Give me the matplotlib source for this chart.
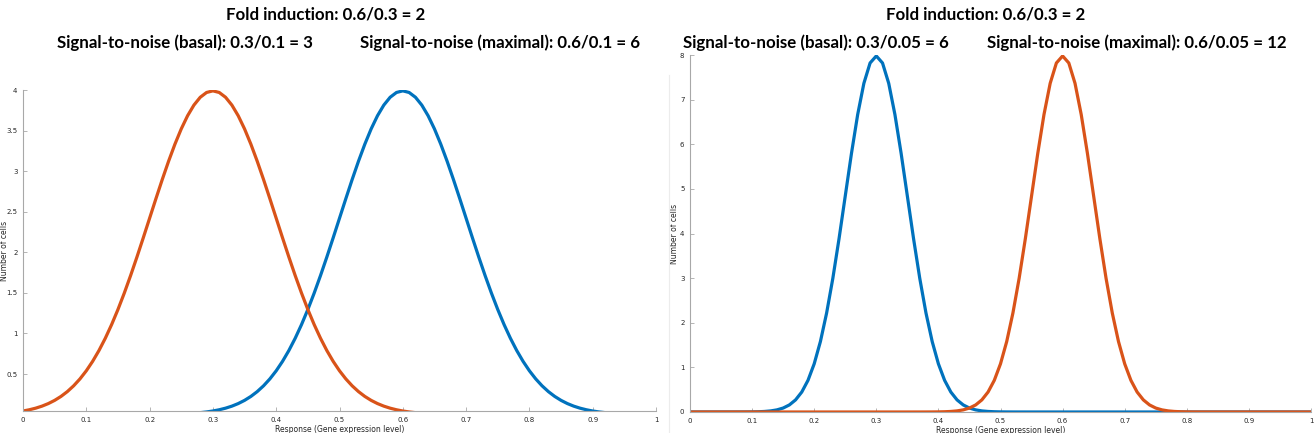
import numpy as np
import matplotlib
matplotlib.use("Agg")
import matplotlib.pyplot as plt

left_blue = (0.6, 0.1)
left_orange = (0.3, 0.1)
right_blue = (0.3, 0.05)
right_orange = (0.6, 0.05)

left_titles = ["Fold induction: 0.6/0.3 = 2",
               "Signal-to-noise (basal): 0.3/0.1 = 3",
               "Signal-to-noise (maximal): 0.6/0.1 = 6"]
right_titles = ["Fold induction: 0.6/0.3 = 2",
                "Signal-to-noise (basal): 0.3/0.05 = 6",
                "Signal-to-noise (maximal): 0.6/0.05 = 12"]

left_yticks = [0.5, 1, 1.5, 2, 2.5, 3, 3.5, 4]
right_yticks = [0, 1, 2, 3, 4, 5, 6, 7, 8]
xticks = [0, 0.1, 0.2, 0.3, 0.4, 0.5, 0.6, 0.7, 0.8, 0.9, 1]

BLUE = "#0072BD"
ORANGE = "#D95319"
TXT = "#262626"


def pdf(x, mu, s):
    return np.exp(-0.5 * ((x - mu) / s) ** 2) / (s * np.sqrt(2 * np.pi))


def panel(ax, blue, orange, yticks, ylim, ylab_x):
    x = np.linspace(0, 1, 101)
    ax.plot(x, pdf(x, *blue), color=BLUE, lw=2.3)
    ax.plot(x, pdf(x, *orange), color=ORANGE, lw=2.3)
    ax.set_xlim(0, 1)
    ax.set_ylim(*ylim)
    ax.set_xticks(xticks)
    ax.set_xticklabels([f"{t:g}" for t in xticks])
    ax.set_yticks(yticks)
    ax.set_yticklabels([f"{t:g}" for t in yticks])
    for s in ["top", "right"]:
        ax.spines[s].set_visible(False)
    for s in ["left", "bottom"]:
        ax.spines[s].set_color("#a8a8a8")
        ax.spines[s].set_linewidth(0.8)
    ax.tick_params(direction="in", length=3, width=0.6, color="#a8a8a8",
                   labelsize=5, labelcolor=TXT, pad=4)
    ax.set_xlabel("Response (Gene expression level)", fontsize=5.5, color=TXT, labelpad=2)
    ax.set_ylabel("Number of cells", fontsize=5.5, color=TXT)
    ax.yaxis.set_label_coords(ylab_x, 0.5)


fig = plt.figure(figsize=(13.14, 4.33), dpi=100)

ax1 = fig.add_axes([23 / 1314, 1 - 411 / 433, (656 - 23) / 1314, (411 - 90) / 433])
ymin = pdf(0, *left_orange)
panel(ax1, left_blue, left_orange, left_yticks, (ymin, 4.0), -0.022)

ax2 = fig.add_axes([690 / 1314, 1 - 412 / 433, (1311 - 690) / 1314, (412 - 55) / 433])
panel(ax2, right_blue, right_orange, right_yticks, (0, 8.0), -0.017)

# borde tenue de la imagen derecha
fig.add_artist(plt.Line2D([669 / 1314, 669 / 1314], [0.0, 1 - 75 / 433],
                          transform=fig.transFigure, color="#ececec", lw=0.8))

tfont = dict(fontsize=12.2, fontweight="bold", family="Lato", color="black", va="center")
fig.text(326 / 1314, 1 - 15 / 433, left_titles[0], ha="center", **tfont)
fig.text(57 / 1314, 1 - 43 / 433, left_titles[1], ha="left", **tfont)
fig.text(360 / 1314, 1 - 43 / 433, left_titles[2], ha="left", **tfont)
fig.text(986 / 1314, 1 - 15 / 433, right_titles[0], ha="center", **tfont)
fig.text(683 / 1314, 1 - 43 / 433, right_titles[1], ha="left", **tfont)
fig.text(987 / 1314, 1 - 43 / 433, right_titles[2], ha="left", **tfont)

fig.savefig("out.png", dpi=100)
